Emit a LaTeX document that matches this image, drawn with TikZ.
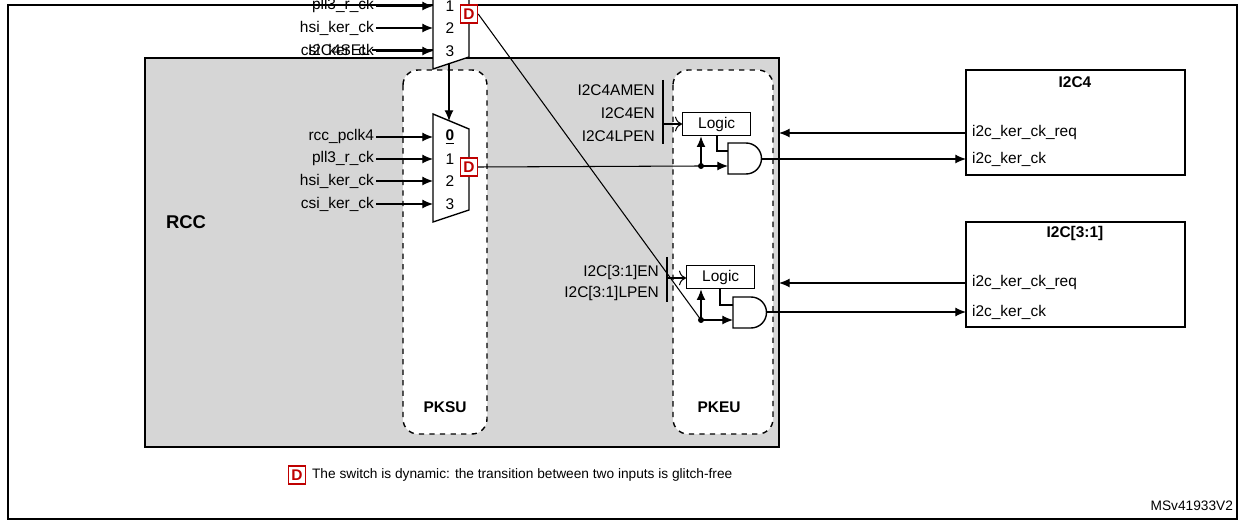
\documentclass[tikz,border=0pt]{standalone}
\usepackage{fontspec}
\setmainfont{Liberation Sans}
\usetikzlibrary{arrows,arrows.meta,positioning}
\tikzstyle{every node}=[font=\fontsize{8.8}{10}\selectfont,inner sep=1pt]
\tikzstyle{logic}=[draw,thick,minimum width=1.36cm,minimum height=0.46cm]
\tikzstyle{dyn}=[draw=red!75!black,thick,text=red!75!black,font=\fontsize{8.8}{10}\selectfont\bfseries,
                 minimum width=0.34cm,minimum height=0.36cm,inner sep=0pt,fill=white]
\tikzstyle{unit}=[draw,thick,dashed,rounded corners=0.3cm,fill=white]
\tikzstyle{periph}=[draw,line width=1.2pt]
\tikzstyle{wire}=[semithick]
\tikzstyle{arr}=[semithick,-{Latex[length=6pt,width=5pt]}]
\begin{document}
\begin{tikzpicture}[x=0.02cm,y=0.02cm,yscale=-1]
\useasboundingbox (0,0) rectangle (1245,520);
\draw[thick] (8,5) rectangle (1237,519);
% RCC block
\draw[line width=1.2pt,fill=gray!32] (145,58) rectangle (779,447);
\node[font=\fontsize{10.5}{12}\selectfont\bfseries] (rcc) at (186,222) {RCC};
\draw[unit] (403,70) rectangle (487,434);
\draw[unit] (673,70) rectangle (773,434);
\node[font=\fontsize{8.8}{10}\selectfont\bfseries] (pksu) at (445,407) {PKSU};
\node[font=\fontsize{8.8}{10}\selectfont\bfseries] (pkeu) at (719,407) {PKEU};
% peripherals
\draw[periph] (966,70) rectangle (1185,175);
\node[font=\fontsize{8.8}{10}\selectfont\bfseries] (i2c4) at (1075,82) {I2C4};
\draw[periph] (966,222) rectangle (1185,327);
\node[font=\fontsize{8.8}{10}\selectfont\bfseries] (i2c31) at (1075,234) {I2C[3:1]};
% two channels
\foreach \n/\y/\sel/\sy/\pclk in {a/0/I2C4SEL/50/rcc\_pclk4, b/153/I2C123SEL/84/rcc\_pclk1}{
  \begin{scope}[yshift=-\y*0.02cm]
  \draw[thick,fill=white] (433,114) -- (469,129) -- (469,210) -- (433,222) -- cycle;
  \coordinate (\n top) at (449,121);
  \node[anchor=east] (\n sel) at (372,\sy) {\sel};
  \draw[arr] (\n sel.east) -- (449,\sy) -- (\n top);
  \foreach \yy/\lab/\num [count=\i] in {137/\pclk/\underline{\textbf{0}},159/pll3\_r\_ck/1,181/hsi\_ker\_ck/2,204/csi\_ker\_ck/3}{
    \node[anchor=east] (\n in\i) at (376,\yy) {\lab};
    \draw[arr] (\n in\i.east) -- (433,\yy);
    \node (\n num\i) at (450,\yy) {\num};
  }
  \node[dyn] (\n D) at (469,167) {D};
  \end{scope}
}
% PKEU, channel a
\node[logic,anchor=north west] (alogic) at (682,112) {Logic};
\draw[thick,fill=white] (728,143) -- (746,143) arc[start angle=-90,end angle=90,radius=15.5] -- (728,174) -- cycle;
\coordinate (aandin) at (728,166);
\coordinate (aandout) at (762,159);
\node[anchor=east] (aen1) at (657,90) {I2C4AMEN};
\node[anchor=east] (aen2) at (657,113) {I2C4EN};
\node[anchor=east] (aen3) at (657,136) {I2C4LPEN};
\draw[thick] (663,80) -- (663,144);
\draw[wire,-{To[length=4pt]}] (663,124) -- (alogic.west |- 0,124);
\coordinate (adot) at (701,166);
\draw[wire] (aD.east) -- (adot);
\draw[arr] (adot) -- (aandin);
\fill (adot) circle (3);
\draw[arr] (adot) -- (adot |- alogic.south);
\draw[wire] (717,135) -- (717,151) -- (728,151);
\draw[arr] (966,133) -- (779,133);
\draw[arr] (aandout) -- (966,159);
\node[anchor=west] (areq) at (970,133) {i2c\_ker\_ck\_req};
\node[anchor=west] (ack) at (970,159) {i2c\_ker\_ck};
% PKEU, channel b
\node[logic,anchor=north west] (blogic) at (686,265) {Logic};
\draw[thick,fill=white] (733,297) -- (751,297) arc[start angle=-90,end angle=90,radius=15.5] -- (733,328) -- cycle;
\coordinate (bandin) at (733,319);
\coordinate (bandout) at (767,312);
\node[anchor=east] (ben1) at (661,273) {I2C[3:1]EN};
\node[anchor=east] (ben2) at (661,294) {I2C[3:1]LPEN};
\draw[thick] (667,257) -- (667,302);
\draw[wire,-{To[length=4pt]}] (667,278) -- (blogic.west |- 0,278);
\coordinate (bdot) at (701,320);
\draw[wire] (bD.east) -- (bdot);
\draw[arr] (bdot) -- (bandin |- bdot);
\fill (bdot) circle (3);
\draw[arr] (bdot) -- (bdot |- blogic.south);
\draw[wire] (720,289) -- (720,305) -- (733,305);
\draw[arr] (966,283) -- (779,283);
\draw[arr] (bandout) -- (966,312);
\node[anchor=west] (breq) at (970,283) {i2c\_ker\_ck\_req};
\node[anchor=west] (bck) at (970,312) {i2c\_ker\_ck};
% legend
\node[dyn] (legD) at (297,475) {D};
\node[anchor=west,font=\fontsize{7.8}{9}\selectfont] (legtxt) at (310,475) {The switch is dynamic: the transition between two inputs is glitch-free};
\node[anchor=east,font=\fontsize{7.8}{9}\selectfont] (ref) at (1235,506) {MSv41933V2};
\end{tikzpicture}
\end{document}
